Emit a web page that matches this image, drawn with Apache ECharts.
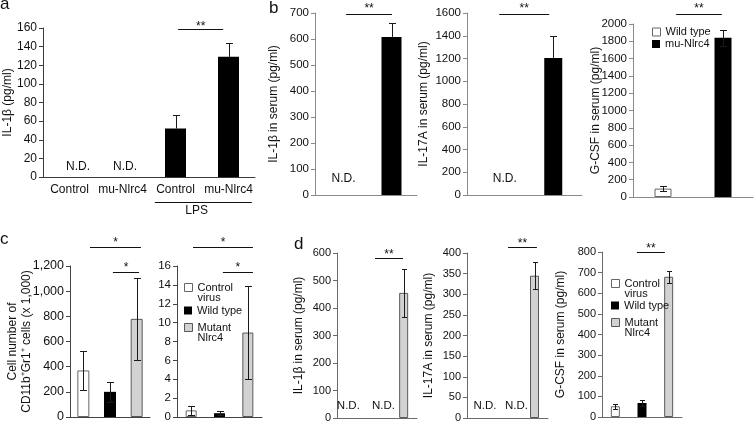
<!DOCTYPE html>
<html>
<head>
<meta charset="utf-8">
<script src="https://cdn.jsdelivr.net/npm/echarts@6/dist/echarts.min.js"></script>
<style>
html, body { margin: 0; padding: 0; background: #ffffff; }
#chart { width: 754px; height: 423px; }
</style>
</head>
<body>
<div id="chart"></div>
<script>
// ================= DATA =================
const panelLetters = ['a', 'b', 'c', 'd'];
const notDetectedLabel = 'N.D.';

// Panel a
const aCategories = ['Control', 'mu-Nlrc4', 'Control', 'mu-Nlrc4'];
const aValues = [null, null, 52, 129];
const aErrors = [null, null, 14.5, 15];
const aTicks = [0, 20, 40, 60, 80, 100, 120, 140, 160];
const aNotDetected = [0, 1];
const aSignificance = [[2, 3, '**']];
const aGroupLabel = 'LPS';
const aYName = 'IL-1β (pg/ml)';

// Panel b
const bCategories = ['Wild type', 'mu-Nlrc4'];
const b1Values = [null, 608];
const b1Errors = [null, 55];
const b1Ticks = [0, 100, 200, 300, 400, 500, 600, 700];
const b1YName = 'IL-1β in serum (pg/ml)';
const b2Values = [null, 1205];
const b2Errors = [null, 190];
const b2Ticks = [0, 200, 400, 600, 800, 1000, 1200, 1400, 1600];
const b2YName = 'IL-17A in serum (pg/ml)';
const b3Values = [97, 1840];
const b3Errors = [30, 90];
const b3Ticks = [0, 200, 400, 600, 800, 1000, 1200, 1400, 1600, 1800, 2000];
const b3YName = 'G-CSF in serum (pg/ml)';
const b1NotDetected = [0];
const b2NotDetected = [0];
const bSignificance = [[0, 1, '**']];

// Panels c and d
const cdCategories = ['Control\nvirus', 'Wild type', 'Mutant\nNlrc4'];
const c1Values = [370, 200, 780];
const c1Errors = [158, 82, 325];
const c1Ticks = [0, 200, 400, 600, 800, 1000, 1200];
const c1YName = 'Cell number of\nCD11b⁺Gr1⁺ cells (x 1,000)';
const c2Values = [0.7, 0.4, 8.95];
const c2Errors = [0.5, 0.2, 4.95];
const c2Ticks = [0, 2, 4, 6, 8, 10, 12, 14, 16];
const cSignificance = [[0, 2, '*'], [1, 2, '*']];

const d1Values = [null, null, 455];
const d1Errors = [null, null, 88];
const d1Ticks = [0, 100, 200, 300, 400, 500, 600];
const d1YName = 'IL-1β in serum (pg/ml)';
const d2Values = [null, null, 345];
const d2Errors = [null, null, 32];
const d2Ticks = [0, 50, 100, 150, 200, 250, 300, 350, 400];
const d2YName = 'IL-17A in serum (pg/ml)';
const d3Values = [52, 68, 680];
const d3Errors = [11, 13, 30];
const d3Ticks = [0, 100, 200, 300, 400, 500, 600, 700, 800];
const d3YName = 'G-CSF in serum (pg/ml)';
const d1NotDetected = [0, 1];
const d2NotDetected = [0, 1];
const dSignificance = [[1, 2, '**']];

// ================= STYLE / LAYOUT =================
const FONT = '"Liberation Sans", Arial, Helvetica, sans-serif';
const INK = '#111111';
const fills = {
  white: { color: '#ffffff', borderColor: '#666666', borderWidth: 1 },
  black: { color: '#000000' },
  gray: { color: '#d2d2d2', borderColor: '#585858', borderWidth: 1 }
};

const panels = [
  { cats: aCategories, values: aValues, errors: aErrors, ticks: aTicks, yName: aYName,
    nd: aNotDetected, sig: aSignificance, group: aGroupLabel,
    L: { grid: [43, 28, 212, 149], barWidth: 21, cap: 7, errBoth: false,
         fill: ['black', 'black', 'black', 'black'], axisColor: '#3a3a3a', tickFont: 12,
         nameGap: 28, showCats: true, ndDx: [8.5, 2.5], ndDy: 10, ndFont: 12,
         sigGeom: [[2.05, 2.9, 159]], sigDy: 3,
         groupGeom: { f0: 1.61, f1: 3.44, fText: 2.4, lineDy: 25, textDy: 34 } } },
  { cats: bCategories, values: b1Values, errors: b1Errors, ticks: b1Ticks, yName: b1YName,
    nd: b1NotDetected, sig: bSignificance,
    L: { grid: [315, 13, 102, 182], barWidth: 20, cap: 7, errBoth: false,
         fill: ['white', 'black'], axisColor: '#8a8a8a', tickFont: 11.5,
         nameGap: 34, ndDx: [3], ndDy: 16, ndFont: 12,
         sigGeom: [[0.11, 1.01, 698]], sigDy: 0 } },
  { cats: bCategories, values: b2Values, errors: b2Errors, ticks: b2Ticks, yName: b2YName,
    nd: b2NotDetected, sig: bSignificance,
    L: { grid: [467, 13, 115, 182], barWidth: 18, cap: 7, errBoth: false,
         fill: ['white', 'black'], axisColor: '#8a8a8a', tickFont: 11.5,
         nameGap: 36, ndDx: [9], ndDy: 16, ndFont: 12,
         sigGeom: [[0.06, 0.93, 1592]], sigDy: 0 } },
  { cats: bCategories, values: b3Values, errors: b3Errors, ticks: b3Ticks, yName: b3YName,
    nd: [], sig: bSignificance,
    L: { grid: [633, 24, 120, 173], barWidth: 17, cap: 7, errBoth: true,
         fill: ['white', 'black'], axisColor: '#8a8a8a', tickFont: 11.5,
         nameGap: 30, ndDx: [], ndDy: 16, ndFont: 12,
         sigGeom: [[0.22, 0.98, 2116]], sigDy: 0 } },
  { cats: cdCategories, values: c1Values, errors: c1Errors, ticks: c1Ticks, yName: c1YName,
    nd: [], sig: cSignificance, commas: true,
    L: { grid: [70, 266, 80, 151], barWidth: 12, cap: 7, errBoth: true,
         fill: ['white', 'black', 'gray'], axisColor: '#444444', tickFont: 12.5,
         nameGap: 36, ndDx: [], ndDy: 12, ndFont: 12,
         sigGeom: [[0.25, 2.16, 1351], [1.11, 2.09, 1152]], sigDy: 1 } },
  { cats: cdCategories, values: c2Values, errors: c2Errors, ticks: c2Ticks, yName: '',
    nd: [], sig: cSignificance,
    L: { grid: [177, 266, 85, 151], barWidth: 11, cap: 7, errBoth: true,
         fill: ['white', 'black', 'gray'], axisColor: '#444444', tickFont: 11.5,
         nameGap: 30, ndDx: [], ndDy: 12, ndFont: 12,
         sigGeom: [[0.065, 2.18, 18.0], [1.12, 2.18, 15.36]], sigDy: 1 } },
  { cats: cdCategories, values: d1Values, errors: d1Errors, ticks: d1Ticks, yName: d1YName,
    nd: d1NotDetected, sig: dSignificance,
    L: { grid: [337, 253, 80, 165], barWidth: 9, cap: 5, errBoth: true,
         fill: ['white', 'black', 'gray'], axisColor: '#6a6a6a', tickFont: 11,
         nameGap: 31, ndDx: [-2, 6.5], ndDy: 12, ndFont: 11.5,
         sigGeom: [[0.925, 1.975, 582]], sigDy: 2 } },
  { cats: cdCategories, values: d2Values, errors: d2Errors, ticks: d2Ticks, yName: d2YName,
    nd: d2NotDetected, sig: dSignificance,
    L: { grid: [467, 253, 81, 165], barWidth: 9, cap: 5, errBoth: true,
         fill: ['white', 'black', 'gray'], axisColor: '#6a6a6a', tickFont: 11,
         nameGap: 31, ndDx: [4.5, 9], ndDy: 12, ndFont: 11.5,
         sigGeom: [[1.02, 2.09, 414.5]], sigDy: 2 } },
  { cats: cdCategories, values: d3Values, errors: d3Errors, ticks: d3Ticks, yName: d3YName,
    nd: [], sig: dSignificance,
    L: { grid: [602, 252, 80, 165], barWidth: 9, cap: 5, errBoth: true,
         fill: ['white', 'black', 'gray'], axisColor: '#6a6a6a', tickFont: 11,
         nameGap: 34, ndDx: [], ndDy: 12, ndFont: 11.5,
         sigGeom: [[0.81, 1.86, 800]], sigDy: 2 } }
];

const letterLayout = [
  { left: 0, top: -4 }, { left: 269, top: 0 }, { left: 0, top: 231 }, { left: 294, top: 236 }
];

// legends: [panel-legend items]: name, fill, box-left, item center y
const legendLayout = [
  { name: 'Wild type', fill: 'white', left: 652, cy: 32 },
  { name: 'mu-Nlrc4', fill: 'black', left: 652, cy: 44 },
  { name: 'Control\nvirus', fill: 'white', left: 184, cy: 287 },
  { name: 'Wild type', fill: 'black', left: 184, cy: 310 },
  { name: 'Mutant\nNlrc4', fill: 'gray', left: 184, cy: 327 },
  { name: 'Control\nvirus', fill: 'white', left: 611, cy: 283 },
  { name: 'Wild type', fill: 'black', left: 611, cy: 305 },
  { name: 'Mutant\nNlrc4', fill: 'gray', left: 611, cy: 322 }
];

// ================= BUILD =================
function commas(v) { return String(v).replace(/\B(?=(\d{3})+(?!\d))/g, ','); }

function errorBarRenderer(L) {
  return function (params, api) {
    const c = api.value(0), v = api.value(1), e = api.value(2);
    const pTop = api.coord([c, v + e]);
    const pMid = api.coord([c, v]);
    const pBot = api.coord([c, v - e]);
    const x = Math.round(pTop[0]) + 0.5;
    const yT = Math.round(pTop[1]) + 0.5;
    const yE = L.errBoth ? Math.round(pBot[1]) + 0.5 : pMid[1];
    const h = L.cap / 2;
    const st = { stroke: '#1a1a1a', lineWidth: 1 };
    const ch = [
      { type: 'line', shape: { x1: x, y1: yT, x2: x, y2: yE }, style: st },
      { type: 'line', shape: { x1: x - h, y1: yT, x2: x + h, y2: yT }, style: st }
    ];
    if (L.errBoth) ch.push({ type: 'line', shape: { x1: x - h, y1: yE, x2: x + h, y2: yE }, style: st });
    return { type: 'group', children: ch };
  };
}

function annotationRenderer(p) {
  const L = p.L;
  return function (params, api) {
    const origin = api.coord([0, 0]);
    const band = api.size([1, 0])[0];
    const xAt = f => origin[0] + f * band;
    const yAt = v => api.coord([0, v])[1];
    const children = [];
    (p.sig || []).forEach((s, k) => {
      const g = L.sigGeom[k];
      const x1 = xAt(g[0]), x2 = xAt(g[1]);
      const y = Math.round(yAt(g[2])) + 0.5;
      children.push({ type: 'line', shape: { x1: x1, y1: y, x2: x2, y2: y }, style: { stroke: INK, lineWidth: 1 } });
      children.push({ type: 'text', x: (x1 + x2) / 2, y: y + L.sigDy,
        style: { text: s[2], align: 'center', verticalAlign: 'bottom', fontSize: 12, fill: INK, fontFamily: FONT } });
    });
    (p.nd || []).forEach((ci, k) => {
      children.push({ type: 'text', x: xAt(ci) + L.ndDx[k], y: origin[1] - L.ndDy,
        style: { text: notDetectedLabel, align: 'center', verticalAlign: 'middle', fontSize: L.ndFont, fill: INK, fontFamily: FONT } });
    });
    if (p.group) {
      const gg = L.groupGeom;
      const y = Math.round(origin[1] + gg.lineDy) + 0.5;
      children.push({ type: 'line', shape: { x1: xAt(gg.f0), y1: y, x2: xAt(gg.f1), y2: y }, style: { stroke: INK, lineWidth: 1.2 } });
      children.push({ type: 'text', x: xAt(gg.fText), y: origin[1] + gg.textDy,
        style: { text: p.group, align: 'center', verticalAlign: 'middle', fontSize: 12, fill: INK, fontFamily: FONT } });
    }
    return { type: 'group', children: children };
  };
}

const grids = [], xAxes = [], yAxes = [], series = [];
panels.forEach((p, i) => {
  const L = p.L;
  grids.push({ left: L.grid[0], top: L.grid[1], width: L.grid[2], height: L.grid[3],
    containLabel: false, outerBoundsMode: 'none' });
  xAxes.push({
    type: 'category', gridIndex: i, data: p.cats,
    axisLine: { show: true, lineStyle: { color: L.axisColor, width: 1 } },
    axisTick: { show: false },
    axisLabel: { show: !!L.showCats, interval: 0, fontSize: 12, color: INK, margin: 7, fontFamily: FONT },
    splitLine: { show: false }
  });
  yAxes.push({
    type: 'value', gridIndex: i,
    min: p.ticks[0], max: p.ticks[p.ticks.length - 1], interval: p.ticks[1] - p.ticks[0],
    name: p.yName, nameLocation: 'middle', nameGap: L.nameGap, nameMoveOverlap: false,
    nameTextStyle: { fontSize: 12, color: INK, lineHeight: 14, fontFamily: FONT },
    axisLine: { show: true, lineStyle: { color: L.axisColor, width: 1 } },
    axisTick: { show: true, inside: false, length: 4, lineStyle: { color: L.axisColor } },
    axisLabel: { fontSize: L.tickFont, color: INK, margin: 6, fontFamily: FONT,
      formatter: p.commas ? commas : (v => String(v)) },
    splitLine: { show: false }
  });
  p.cats.forEach((cat, k) => {
    series.push({
      type: 'bar', name: cat, xAxisIndex: i, yAxisIndex: i,
      data: p.values.map((v, j) => (j === k && v != null) ? v : '-'),
      barWidth: L.barWidth, barGap: '-100%',
      itemStyle: fills[L.fill[k]], silent: true, z: 2
    });
  });
  series.push({
    type: 'custom', xAxisIndex: i, yAxisIndex: i, silent: true, z: 5,
    data: p.values.map((v, j) => v == null ? null : [j, v, p.errors[j]]).filter(Boolean),
    renderItem: errorBarRenderer(L)
  });
  series.push({
    type: 'custom', xAxisIndex: i, yAxisIndex: i, silent: true, z: 6, clip: false,
    data: [[0, 0]],
    renderItem: annotationRenderer(p)
  });
});

const legends = legendLayout.map(item => {
  const multi = item.name.indexOf('\n') >= 0;
  const lh = item.cy < 100 ? 12 : 10;
  const half = multi ? (3 * lh) / 2 : lh / 2;
  return {
    left: item.left, top: item.cy - half, padding: 0, orient: 'vertical',
    itemWidth: 8, itemHeight: 8, itemGap: 0, selectedMode: false,
    icon: 'rect',
    formatter: multi ? (n => '\n' + n) : (n => n),
    textStyle: { fontSize: 11, color: INK, lineHeight: lh, fontFamily: FONT },
    data: [{ name: item.name, icon: 'rect', itemStyle: Object.assign({ borderWidth: 0, borderColor: 'transparent' }, fills[item.fill]) }]
  };
});

const titles = panelLetters.map((t, k) => ({
  text: t, left: letterLayout[k].left, top: letterLayout[k].top, padding: 0,
  textStyle: { fontSize: 17, fontWeight: 'normal', color: INK, fontFamily: FONT }
}));

const chart = echarts.init(document.getElementById('chart'), null, { renderer: 'canvas' });
chart.setOption({
  animation: false,
  backgroundColor: '#ffffff',
  textStyle: { fontFamily: FONT },
  title: titles,
  legend: legends,
  grid: grids,
  xAxis: xAxes,
  yAxis: yAxes,
  series: series
});
</script>
</body>
</html>
